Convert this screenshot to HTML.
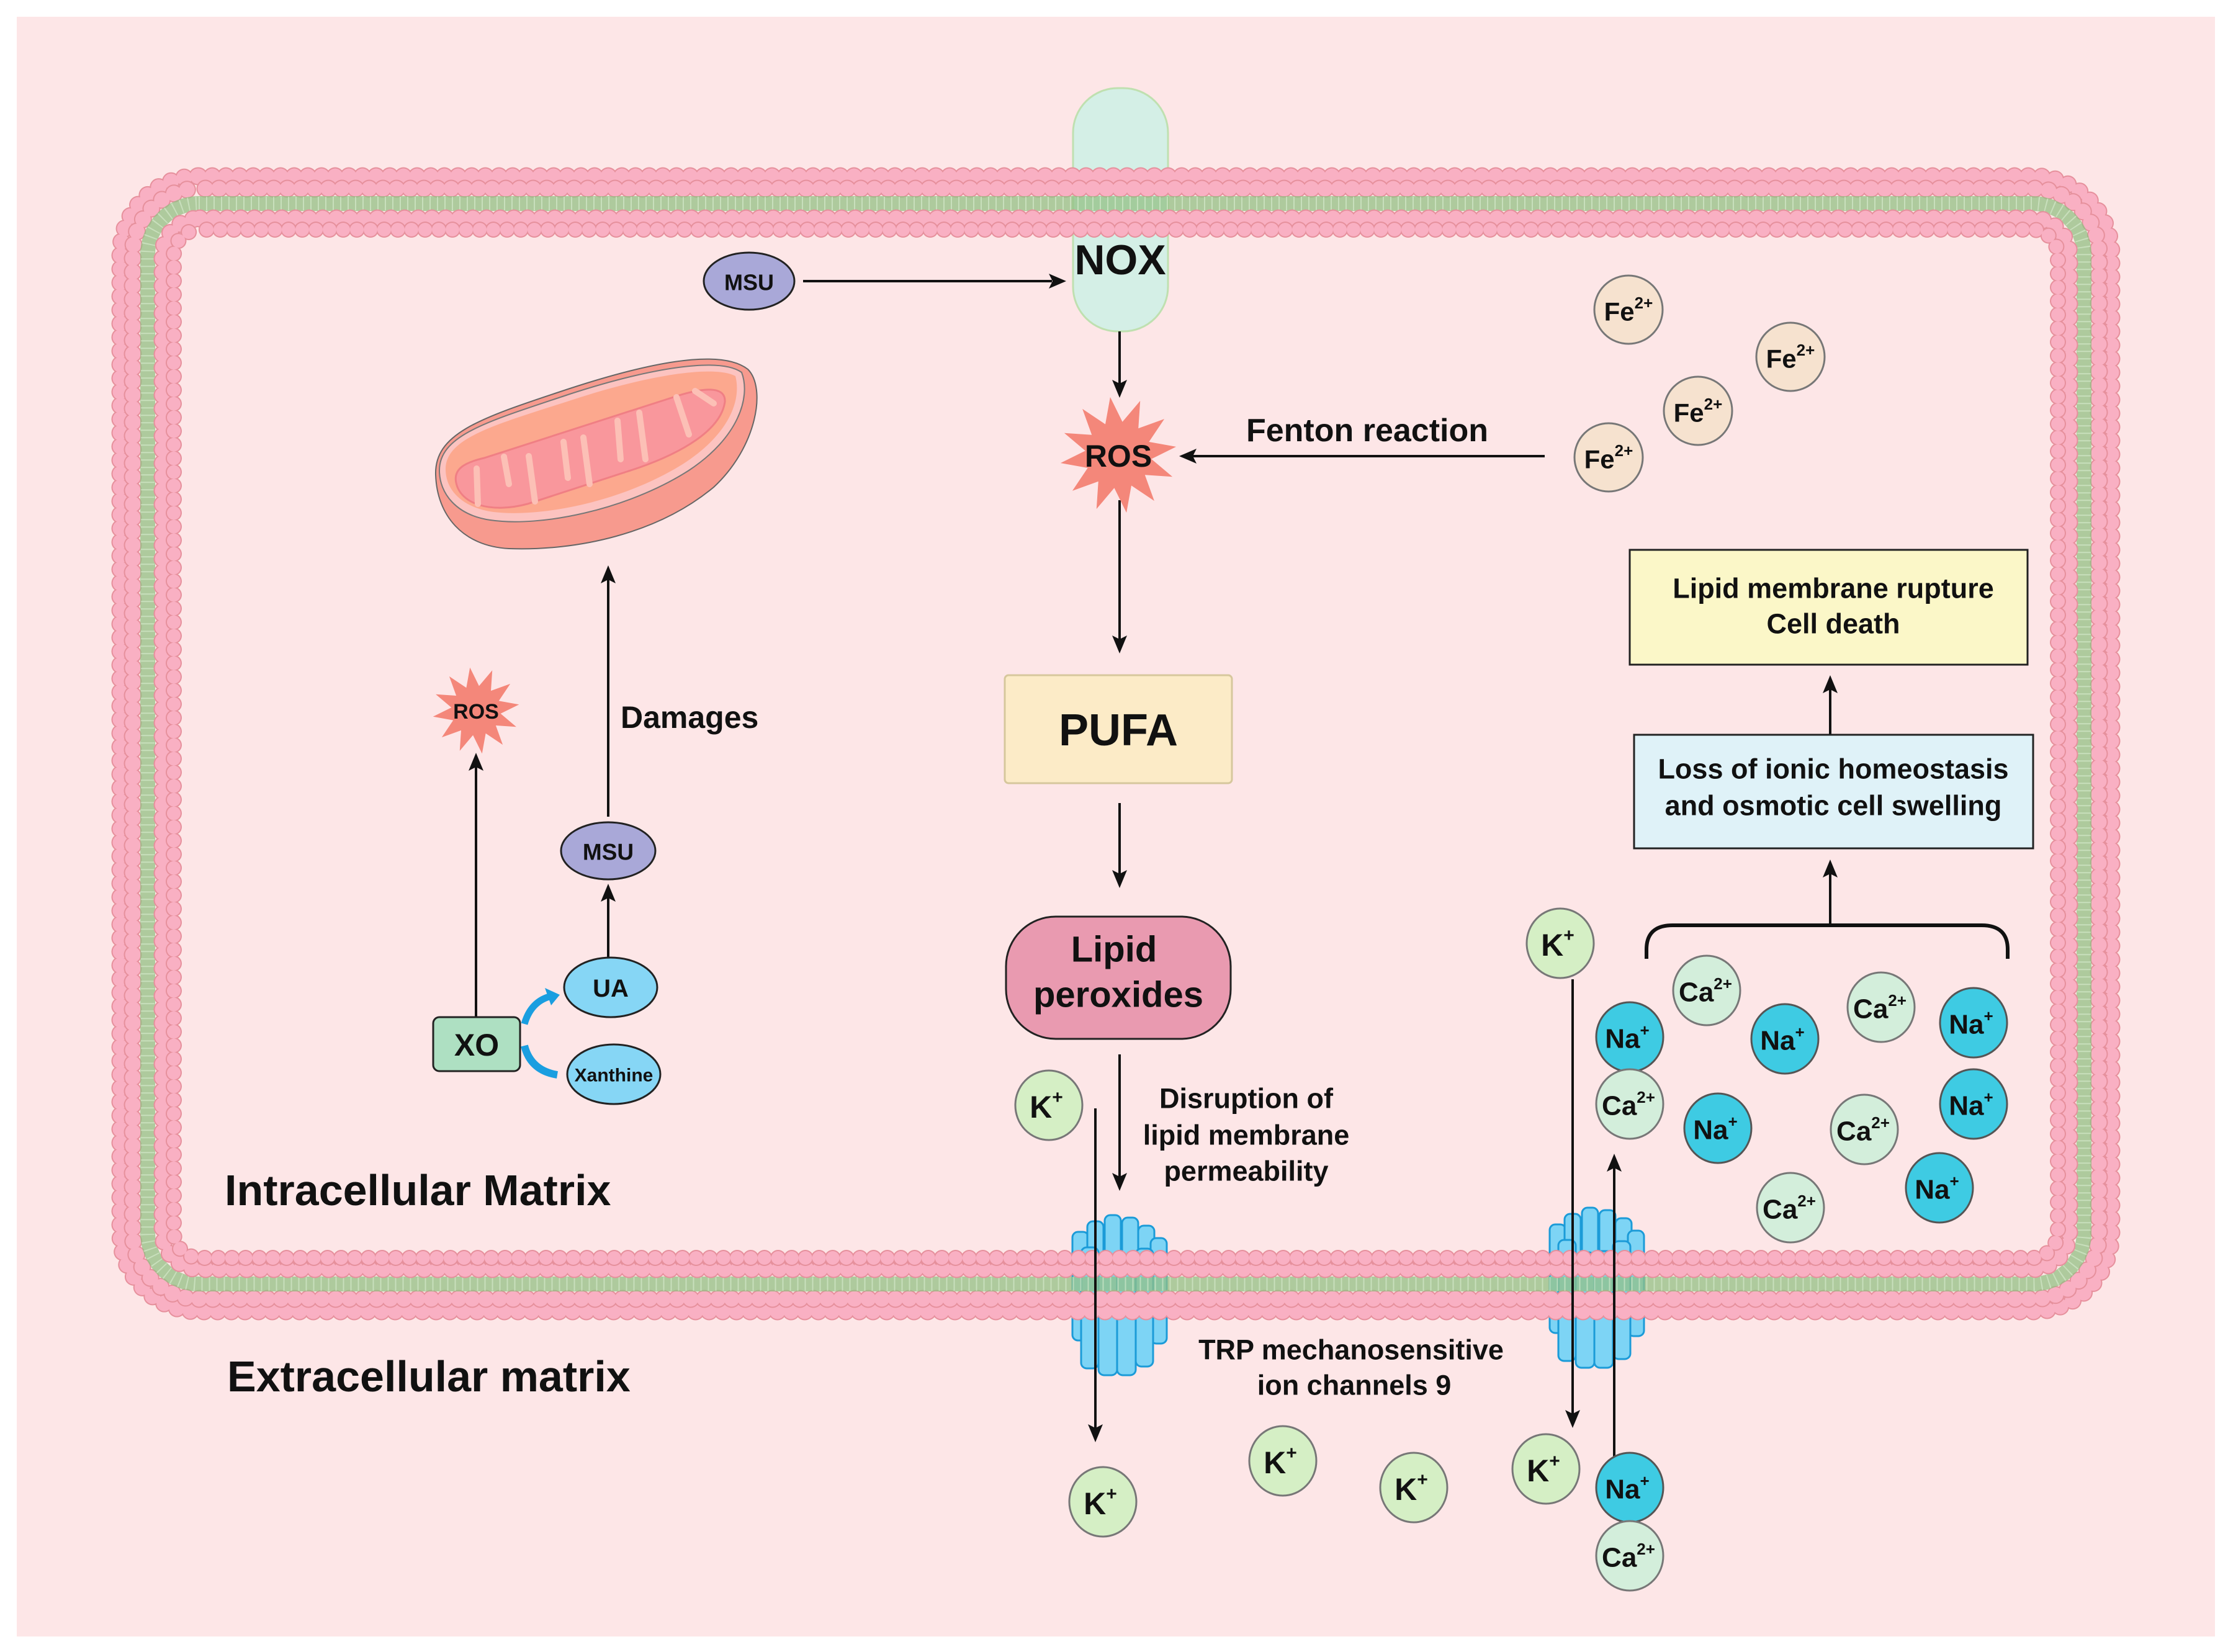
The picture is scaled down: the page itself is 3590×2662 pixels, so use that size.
<!DOCTYPE html>
<html><head><meta charset="utf-8"><style>
html,body{margin:0;padding:0;background:#fff;}
svg{display:block;}
text{font-family:"Liberation Sans",Arial,sans-serif;font-weight:bold;fill:#111;}
</style></head><body>
<svg width="3590" height="2662" viewBox="0 0 3590 2662" xmlns="http://www.w3.org/2000/svg">
<defs>
<polygon id="star" points="1,0 .551,.148 .866,.5 .403,.403 .5,.866 .148,.551 0,1 -.148,.551 -.5,.866 -.403,.403 -.866,.5 -.551,.148 -1,0 -.551,-.148 -.866,-.5 -.403,-.403 -.5,-.866 -.148,-.551 0,-1 .148,-.551 .5,-.866 .403,-.403 .866,-.5 .551,-.148"/>
<g id="chan">
  <g fill="#7dd4f5" stroke="#1b9bd8" stroke-width="3">
    <rect x="6" y="27" width="26" height="175" rx="9"/>
    <rect x="30" y="10" width="26" height="185" rx="9"/>
    <rect x="58" y="0" width="26" height="190" rx="9"/>
    <rect x="86" y="4" width="26" height="190" rx="9"/>
    <rect x="112" y="17" width="26" height="180" rx="9"/>
    <rect x="132" y="37" width="26" height="170" rx="9"/>
    <rect x="20" y="52" width="28" height="195" rx="9"/>
    <rect x="48" y="72" width="30" height="186" rx="9"/>
    <rect x="78" y="70" width="30" height="188" rx="9"/>
    <rect x="108" y="54" width="28" height="190" rx="9"/>
  </g>
</g>
</defs>

<rect x="27" y="27" width="3542" height="2610" fill="#fde6e7"/>

<!-- NOX box -->
<rect x="1729" y="142" width="153" height="392" rx="72" fill="#d4efe6" stroke="#bfe0b0" stroke-width="3"/>

<!-- channels -->
<use href="#chan" transform="translate(1722,1958)"/>
<use href="#chan" transform="translate(2491,1946)"/>

<!-- membrane -->
<g fill="none" stroke-linecap="round">
  <rect x="194" y="284" width="3208" height="1829" rx="126" stroke="#e6909c" stroke-width="29" stroke-dasharray="0 22"/>
  <rect x="194" y="284" width="3208" height="1829" rx="126" stroke="#f9b0c3" stroke-width="25" stroke-dasharray="0 22"/>
  <rect x="214" y="304" width="3168" height="1789" rx="106" stroke="#e6909c" stroke-width="29" stroke-dasharray="0 22" stroke-dashoffset="11"/>
  <rect x="214" y="304" width="3168" height="1789" rx="106" stroke="#f9b0c3" stroke-width="25" stroke-dasharray="0 22" stroke-dashoffset="11"/>
  <rect x="238" y="328" width="3120" height="1741" rx="82" stroke="#93c084" stroke-width="24" stroke-linecap="butt" opacity="0.75"/>
  <rect x="238" y="328" width="3120" height="1741" rx="82" stroke="#d9ecd0" stroke-width="22" stroke-linecap="butt" stroke-dasharray="2 10" opacity="0.6"/>
  <rect x="262" y="352" width="3072" height="1693" rx="60" stroke="#e6909c" stroke-width="29" stroke-dasharray="0 22"/>
  <rect x="262" y="352" width="3072" height="1693" rx="60" stroke="#f9b0c3" stroke-width="25" stroke-dasharray="0 22"/>
  <rect x="280" y="370" width="3036" height="1657" rx="42" stroke="#e6909c" stroke-width="26" stroke-dasharray="0 22" stroke-dashoffset="11"/>
  <rect x="280" y="370" width="3036" height="1657" rx="42" stroke="#f9b0c3" stroke-width="22" stroke-dasharray="0 22" stroke-dashoffset="11"/>
</g>
<!-- NOX label -->
<text x="1805" y="419" font-size="68" text-anchor="middle" dominant-baseline="central">NOX</text>

<!-- arrows -->
<g stroke="#111" stroke-width="4" fill="none">
  <line x1="1294" y1="453" x2="1695" y2="453"/>
  <line x1="1804" y1="534" x2="1804" y2="620"/>
  <line x1="2489" y1="735" x2="1922" y2="735"/>
  <line x1="1804" y1="806" x2="1804" y2="1032"/>
  <line x1="1804" y1="1294" x2="1804" y2="1410"/>
  <line x1="1804" y1="1699" x2="1804" y2="1898"/>
  <line x1="1765" y1="1786" x2="1765" y2="2303"/>
  <line x1="2534" y1="1578" x2="2534" y2="2280"/>
  <line x1="2601" y1="2380" x2="2601" y2="1880"/>
  <line x1="2949" y1="1491" x2="2949" y2="1406"/>
  <line x1="2949" y1="1184" x2="2949" y2="1108"/>
  <line x1="980" y1="1316" x2="980" y2="932"/>
  <line x1="980" y1="1544" x2="980" y2="1445"/>
  <line x1="767" y1="1639" x2="767" y2="1234"/>
  <path d="M2653,1545 L2653,1530 Q2653,1491 2695,1491 L3193,1491 Q3235,1491 3235,1530 L3235,1545" stroke-width="6"/>
</g>
<g fill="#111">
  <polygon points="1718,453 1690,441 1696,453 1690,465"/>
  <polygon points="1804,641 1792,612 1804,618 1816,612"/>
  <polygon points="1900,735 1928,723 1922,735 1928,747"/>
  <polygon points="1804,1053 1792,1024 1804,1030 1816,1024"/>
  <polygon points="1804,1431 1792,1402 1804,1408 1816,1402"/>
  <polygon points="1804,1919 1792,1890 1804,1896 1816,1890"/>
  <polygon points="1765,2324 1753,2295 1765,2301 1777,2295"/>
  <polygon points="2534,2301 2522,2272 2534,2278 2546,2272"/>
  <polygon points="2601,1859 2589,1888 2601,1882 2613,1888"/>
  <polygon points="2949,1385 2937,1414 2949,1408 2961,1414"/>
  <polygon points="2949,1088 2937,1117 2949,1111 2961,1117"/>
  <polygon points="980,911 968,940 980,934 992,940"/>
  <polygon points="980,1424 968,1453 980,1447 992,1453"/>
  <polygon points="767,1213 755,1242 767,1236 779,1242"/>
</g>

<!-- MSU top -->
<ellipse cx="1207" cy="453" rx="73" ry="46" fill="#a9a8d8" stroke="#222" stroke-width="3"/>
<text x="1207" y="455" font-size="36" text-anchor="middle" dominant-baseline="central">MSU</text>

<!-- ROS big -->
<use href="#star" transform="translate(1802,733) rotate(-8) scale(94)" fill="#f4877a"/>
<text x="1802" y="735" font-size="50" text-anchor="middle" dominant-baseline="central">ROS</text>
<text x="2203" y="694" font-size="52" text-anchor="middle" dominant-baseline="central">Fenton reaction</text>

<!-- Fe ions -->
<g fill="#f6e2cf" stroke="#777" stroke-width="3">
  <circle cx="2624" cy="499" r="55"/><circle cx="2885" cy="575" r="55"/>
  <circle cx="2736" cy="662" r="55"/><circle cx="2592" cy="737" r="55"/>
</g>
<g font-size="42" text-anchor="middle" dominant-baseline="central">
  <text x="2624" y="502">Fe<tspan font-size="26" dy="-14">2+</tspan></text>
  <text x="2885" y="578">Fe<tspan font-size="26" dy="-14">2+</tspan></text>
  <text x="2736" y="665">Fe<tspan font-size="26" dy="-14">2+</tspan></text>
  <text x="2592" y="740">Fe<tspan font-size="26" dy="-14">2+</tspan></text>
</g>

<!-- PUFA -->
<rect x="1619" y="1088" width="366" height="174" rx="6" fill="#fcebc7" stroke="#d6c79c" stroke-width="3"/>
<text x="1802" y="1177" font-size="72" text-anchor="middle" dominant-baseline="central">PUFA</text>

<!-- Lipid peroxides -->
<rect x="1621" y="1477" width="362" height="197" rx="80" fill="#e99ab0" stroke="#222" stroke-width="3"/>
<text x="1795" y="1530" font-size="58" text-anchor="middle" dominant-baseline="central">Lipid</text>
<text x="1802" y="1603" font-size="58" text-anchor="middle" dominant-baseline="central">peroxides</text>

<g font-size="45" text-anchor="middle" dominant-baseline="central">
  <text x="2008" y="1770">Disruption of</text>
  <text x="2008" y="1829">lipid membrane</text>
  <text x="2008" y="1887">permeability</text>
  <text x="2177" y="2175">TRP mechanosensitive</text>
  <text x="2182" y="2232">ion channels 9</text>
</g>

<!-- K ions -->
<g fill="#d5efc5" stroke="#777" stroke-width="3">
  <ellipse cx="1690" cy="1781" rx="54" ry="56"/>
  <ellipse cx="1777" cy="2420" rx="54" ry="56"/>
  <ellipse cx="2067" cy="2354" rx="54" ry="56"/>
  <ellipse cx="2278" cy="2397" rx="54" ry="56"/>
  <ellipse cx="2491" cy="2367" rx="54" ry="56"/>
  <ellipse cx="2514" cy="1520" rx="54" ry="56"/>
</g>
<g font-size="50" text-anchor="middle" dominant-baseline="central">
  <text x="1686" y="1784">K<tspan font-size="30" dy="-16">+</tspan></text>
  <text x="1773" y="2423">K<tspan font-size="30" dy="-16">+</tspan></text>
  <text x="2063" y="2357">K<tspan font-size="30" dy="-16">+</tspan></text>
  <text x="2274" y="2400">K<tspan font-size="30" dy="-16">+</tspan></text>
  <text x="2487" y="2370">K<tspan font-size="30" dy="-16">+</tspan></text>
  <text x="2510" y="1523">K<tspan font-size="30" dy="-16">+</tspan></text>
</g>

<!-- Na ions -->
<g fill="#3ecbe3" stroke="#555" stroke-width="3">
  <ellipse cx="2626" cy="2397" rx="54" ry="56"/>
  <ellipse cx="2626" cy="1671" rx="54" ry="56"/>
  <ellipse cx="2876" cy="1674" rx="54" ry="56"/>
  <ellipse cx="3180" cy="1648" rx="54" ry="56"/>
  <ellipse cx="2768" cy="1818" rx="54" ry="56"/>
  <ellipse cx="3180" cy="1779" rx="54" ry="56"/>
  <ellipse cx="3125" cy="1914" rx="54" ry="56"/>
</g>
<g font-size="44" text-anchor="middle" dominant-baseline="central">
  <text x="2622" y="2400">Na<tspan font-size="26" dy="-14">+</tspan></text>
  <text x="2622" y="1674">Na<tspan font-size="26" dy="-14">+</tspan></text>
  <text x="2872" y="1677">Na<tspan font-size="26" dy="-14">+</tspan></text>
  <text x="3176" y="1651">Na<tspan font-size="26" dy="-14">+</tspan></text>
  <text x="2764" y="1821">Na<tspan font-size="26" dy="-14">+</tspan></text>
  <text x="3176" y="1782">Na<tspan font-size="26" dy="-14">+</tspan></text>
  <text x="3121" y="1917">Na<tspan font-size="26" dy="-14">+</tspan></text>
</g>

<!-- Ca ions -->
<g fill="#d3eedb" stroke="#777" stroke-width="3">
  <ellipse cx="2626" cy="2507" rx="54" ry="56"/>
  <ellipse cx="2750" cy="1596" rx="54" ry="56"/>
  <ellipse cx="3031" cy="1623" rx="54" ry="56"/>
  <ellipse cx="2626" cy="1779" rx="54" ry="56"/>
  <ellipse cx="3004" cy="1820" rx="54" ry="56"/>
  <ellipse cx="2885" cy="1946" rx="54" ry="56"/>
</g>
<g font-size="44" text-anchor="middle" dominant-baseline="central">
  <text x="2624" y="2510">Ca<tspan font-size="26" dy="-14">2+</tspan></text>
  <text x="2748" y="1599">Ca<tspan font-size="26" dy="-14">2+</tspan></text>
  <text x="3029" y="1626">Ca<tspan font-size="26" dy="-14">2+</tspan></text>
  <text x="2624" y="1782">Ca<tspan font-size="26" dy="-14">2+</tspan></text>
  <text x="3002" y="1823">Ca<tspan font-size="26" dy="-14">2+</tspan></text>
  <text x="2883" y="1949">Ca<tspan font-size="26" dy="-14">2+</tspan></text>
</g>

<!-- right boxes -->
<rect x="2633" y="1184" width="643" height="183" fill="#dff2f8" stroke="#222" stroke-width="3"/>
<text x="2954" y="1239" font-size="45" text-anchor="middle" dominant-baseline="central">Loss of ionic homeostasis</text>
<text x="2954" y="1298" font-size="45" text-anchor="middle" dominant-baseline="central">and osmotic cell swelling</text>
<rect x="2626" y="886" width="641" height="185" fill="#fbf7c8" stroke="#222" stroke-width="3"/>
<text x="2954" y="948" font-size="45" text-anchor="middle" dominant-baseline="central">Lipid membrane rupture</text>
<text x="2954" y="1005" font-size="45" text-anchor="middle" dominant-baseline="central">Cell death</text>

<!-- mitochondrion -->
<path d="M702,765 C700,700 770,675 900,632 C1040,585 1160,560 1205,595 C1235,625 1220,720 1150,785 C1060,860 930,888 820,884 C745,880 704,830 702,765Z" fill="#f79a8e" stroke="#666" stroke-width="2"/>
<path d="M708,758 C708,700 790,678 915,636 C1050,592 1160,575 1195,600 C1210,640 1190,705 1110,758 C1010,822 870,850 790,838 C735,830 708,795 708,758Z" fill="#fcc3c0" stroke="#777" stroke-width="2"/>
<path d="M718,756 C718,705 800,684 920,645 C1045,604 1150,588 1185,606 C1195,645 1175,700 1100,748 C1000,810 870,834 795,825 C745,818 718,790 718,756Z" fill="#fca88e"/>
<path d="M735,778 C730,755 750,745 780,738 L1085,640 C1130,625 1170,620 1168,648 C1160,700 1080,738 1010,760 L850,812 C790,828 742,812 735,778Z" fill="#f9979c" stroke="#f07f84" stroke-width="3"/>
<g stroke="#fcc0b6" stroke-width="10" stroke-linecap="round" fill="none">
  <line x1="770" y1="812" x2="768" y2="755"/>
  <line x1="820" y1="780" x2="812" y2="736"/>
  <line x1="862" y1="808" x2="852" y2="735"/>
  <line x1="908" y1="712" x2="915" y2="770"/>
  <line x1="950" y1="780" x2="940" y2="705"/>
  <line x1="995" y1="678" x2="1000" y2="740"/>
  <line x1="1040" y1="740" x2="1030" y2="665"/>
  <line x1="1090" y1="640" x2="1110" y2="700"/>
  <line x1="1120" y1="630" x2="1150" y2="650"/>
</g>

<text x="1000" y="1156" font-size="50" dominant-baseline="central">Damages</text>

<!-- MSU left -->
<ellipse cx="980" cy="1371" rx="76" ry="46" fill="#a9a8d8" stroke="#222" stroke-width="3"/>
<text x="980" y="1373" font-size="37" text-anchor="middle" dominant-baseline="central">MSU</text>
<ellipse cx="984" cy="1591" rx="75" ry="48" fill="#86d6f5" stroke="#222" stroke-width="3"/>
<text x="984" y="1593" font-size="40" text-anchor="middle" dominant-baseline="central">UA</text>
<ellipse cx="989" cy="1731" rx="75" ry="48" fill="#86d6f5" stroke="#222" stroke-width="3"/>
<text x="989" y="1733" font-size="30" text-anchor="middle" dominant-baseline="central">Xanthine</text>
<rect x="698" y="1639" width="140" height="87" rx="10" fill="#aee0c2" stroke="#222" stroke-width="3"/>
<text x="768" y="1684" font-size="50" text-anchor="middle" dominant-baseline="central">XO</text>
<use href="#star" transform="translate(767,1145) rotate(-8) scale(70)" fill="#f4877a"/>
<text x="767" y="1147" font-size="34" text-anchor="middle" dominant-baseline="central">ROS</text>

<!-- blue curved arrows -->
<path d="M845,1650 Q855,1615 885,1606" stroke="#1a9ee0" stroke-width="11" fill="none"/>
<polygon points="902,1603 878,1592 888,1620" fill="#1a9ee0"/>
<path d="M845,1685 Q855,1725 898,1732" stroke="#1a9ee0" stroke-width="12" fill="none"/>

<text x="362" y="1918" font-size="70" dominant-baseline="central">Intracellular Matrix</text>
<text x="366" y="2218" font-size="70" dominant-baseline="central">Extracellular matrix</text>
</svg>
</body></html>
